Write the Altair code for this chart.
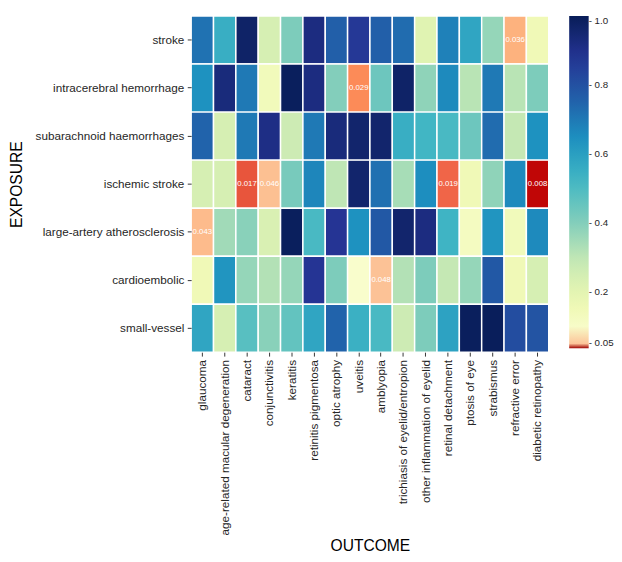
import altair as alt
import pandas as pd

exposures = ["stroke", "intracerebral hemorrhage", "subarachnoid haemorrhages",
             "ischemic stroke", "large-artery atherosclerosis", "cardioembolic",
             "small-vessel"]
outcomes = ["glaucoma", "age-related macular degeneration", "cataract",
            "conjunctivitis", "keratitis", "retinitis pigmentosa", "optic atrophy",
            "uveitis", "amblyopia", "trichiasis of eyelid/entropion",
            "other inflammation of eyelid", "retinal detachment", "ptosis of eye",
            "strabismus", "refractive error", "diabetic retinopathy"]

p_stroke = [0.715, 0.55, 0.97, 0.24, 0.41, 0.92, 0.76, 0.87, 0.76, 0.73, 0.21, 0.68, 0.58, 0.37, 0.036, 0.15]
p_ich    = [0.64, 0.93, 0.70, 0.14, 0.99, 0.92, 0.40, 0.029, 0.44, 0.97, 0.38, 0.66, 0.31, 0.70, 0.31, 0.41]
p_sah    = [0.75, 0.24, 0.70, 0.91, 0.27, 0.70, 0.93, 0.96, 0.96, 0.55, 0.525, 0.51, 0.44, 0.73, 0.29, 0.64]
p_is     = [0.24, 0.24, 0.017, 0.046, 0.42, 0.67, 0.30, 0.96, 0.72, 0.34, 0.65, 0.019, 0.15, 0.38, 0.66, 0.008]
p_laa    = [0.043, 0.35, 0.39, 0.23, 0.99, 0.51, 0.88, 0.64, 0.78, 0.96, 0.92, 0.53, 0.12, 0.63, 0.14, 0.66]
p_ce     = [0.15, 0.63, 0.37, 0.32, 0.37, 0.88, 0.41, 0.09, 0.048, 0.32, 0.41, 0.29, 0.37, 0.78, 0.15, 0.24]
p_sv     = [0.58, 0.24, 0.48, 0.39, 0.46, 0.58, 0.75, 0.545, 0.51, 0.27, 0.41, 0.59, 0.99, 0.995, 0.81, 0.79]
rows = [p_stroke, p_ich, p_sah, p_is, p_laa, p_ce, p_sv]

legend_values = [0.05, 0.2, 0.4, 0.6, 0.8, 1.0]

# colour stops: reds below 0.05, YlGnBu above
red_stops = [0.0, 0.008, 0.017, 0.019, 0.029, 0.036, 0.05]
red_colors = ["#9e0000", "#c00606", "#e8553c", "#f06548", "#fc8b58", "#fdb27e", "#fcc59a"]
blue_stops = [0.0501, 0.16875, 0.2875, 0.40625, 0.525, 0.64375, 0.7625, 0.88125, 1.0]
blue_colors = ["#ffffd9", "#edf8b1", "#c7e9b4", "#7fcdbb", "#41b6c4", "#1d91c0",
               "#225ea8", "#253494", "#081d58"]


def squash(p):
    # compress the red (p < 0.05) part of the colour bar
    return p if p >= 0.05 else 0.05 - (0.05 - p) * 0.28


records = []
for ex, vals in zip(exposures, rows):
    for oc, p in zip(outcomes, vals):
        records.append({"exposure": ex, "outcome": oc, "p": p, "c": squash(p),
                        "label": f"{p:.3f}" if p < 0.05 else ""})
df = pd.DataFrame(records)

domain = [squash(v) for v in red_stops] + blue_stops
rng = red_colors + blue_colors

base = alt.Chart(df).encode(
    x=alt.X("outcome:N", sort=outcomes,
            axis=alt.Axis(title="OUTCOME", labelAngle=-90, labelPadding=3.5,
                          tickSize=4, domain=False, titlePadding=3,
                          labelLimit=300)),
    y=alt.Y("exposure:N", sort=exposures,
            axis=alt.Axis(title="EXPOSURE", labelPadding=3.5, tickSize=4,
                          domain=False, titlePadding=11, labelLimit=300)),
)

rect = base.mark_rect(stroke="white", strokeWidth=1.5).encode(
    color=alt.Color("c:Q",
                    scale=alt.Scale(domain=domain, range=rng, interpolate="rgb"),
                    legend=alt.Legend(title=None, values=legend_values,
                                      gradientLength=341, gradientThickness=20,
                                      gradientStrokeWidth=0, offset=21,
                                      labelOffset=0,
                                      labelFontSize=10, labelColor="#262626",
                                      labelExpr="datum.value < 0.1 ? '- 0.05' : '- ' + format(datum.value, '.1f')"))
)

text = base.mark_text(color="white", fontSize=8).encode(
    text="label:N"
).transform_filter("datum.p < 0.05")

chart = (rect + text).properties(
    width=367, height=345,
    padding={"left": 0, "top": 0, "right": 0, "bottom": 0},
).configure(font="Liberation Sans").configure_view(strokeWidth=0).configure_axis(
    labelFontSize=12, labelColor="#262626", tickColor="#333333",
    titleFontSize=16, titleFontWeight="normal", titleColor="#000000",
).configure_legend(labelFont="Liberation Sans")

chart.save("out.html", embed_options={"renderer": "svg", "actions": False})
